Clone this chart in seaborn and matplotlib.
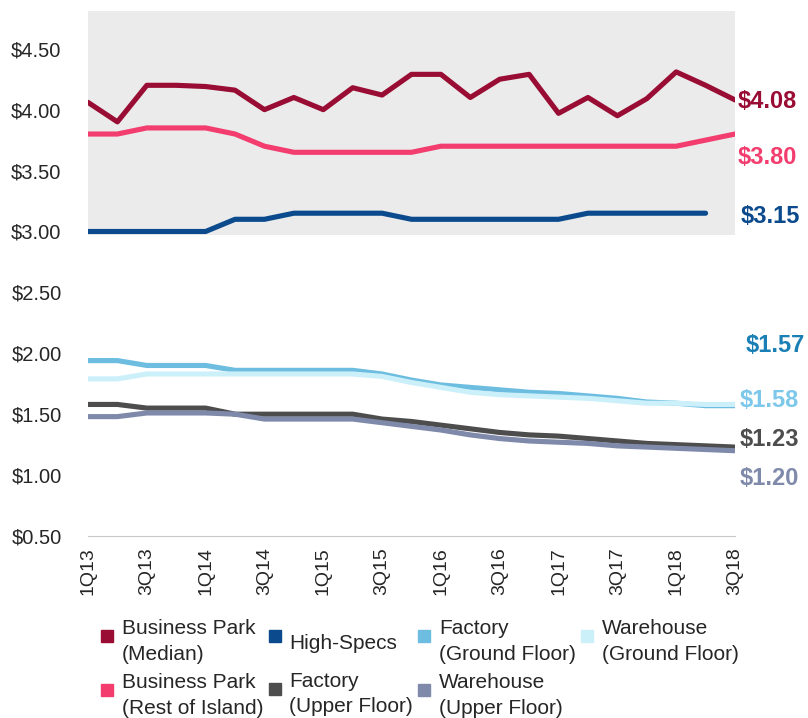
import numpy as np
import pandas as pd
import matplotlib.pyplot as plt
import seaborn as sns
from matplotlib.lines import Line2D

quarters = ["1Q13", "2Q13", "3Q13", "4Q13", "1Q14", "2Q14", "3Q14", "4Q14",
            "1Q15", "2Q15", "3Q15", "4Q15", "1Q16", "2Q16", "3Q16", "4Q16",
            "1Q17", "2Q17", "3Q17", "4Q17", "1Q18", "2Q18", "3Q18"]

bp_median = [4.06, 3.90, 4.20, 4.20, 4.19, 4.16, 4.00, 4.10, 4.00, 4.18, 4.12, 4.29,
             4.29, 4.10, 4.25, 4.29, 3.97, 4.10, 3.95, 4.09, 4.31, 4.20, 4.08]
bp_rest = [3.80, 3.80, 3.85, 3.85, 3.85, 3.80, 3.70, 3.65, 3.65, 3.65, 3.65, 3.65,
           3.70, 3.70, 3.70, 3.70, 3.70, 3.70, 3.70, 3.70, 3.70, 3.75, 3.80]
high_specs = [3.00, 3.00, 3.00, 3.00, 3.00, 3.10, 3.10, 3.15, 3.15, 3.15, 3.15, 3.10,
              3.10, 3.10, 3.10, 3.10, 3.10, 3.15, 3.15, 3.15, 3.15, 3.15, np.nan]
factory_gf = [1.94, 1.94, 1.90, 1.90, 1.90, 1.86, 1.86, 1.86, 1.86, 1.86, 1.83, 1.78,
              1.74, 1.72, 1.70, 1.68, 1.67, 1.65, 1.63, 1.60, 1.59, 1.57, 1.57]
warehouse_gf = [1.79, 1.79, 1.83, 1.83, 1.83, 1.83, 1.83, 1.83, 1.83, 1.83, 1.81, 1.76,
                1.72, 1.68, 1.66, 1.65, 1.64, 1.63, 1.61, 1.59, 1.59, 1.58, 1.58]
factory_uf = [1.58, 1.58, 1.55, 1.55, 1.55, 1.50, 1.50, 1.50, 1.50, 1.50, 1.46, 1.44,
              1.41, 1.38, 1.35, 1.33, 1.32, 1.30, 1.28, 1.26, 1.25, 1.24, 1.23]
warehouse_uf = [1.48, 1.48, 1.51, 1.51, 1.51, 1.50, 1.46, 1.46, 1.46, 1.46, 1.43, 1.40,
                1.37, 1.33, 1.30, 1.28, 1.27, 1.26, 1.24, 1.23, 1.22, 1.21, 1.20]

names = ["Business Park\n(Median)", "Business Park\n(Rest of Island)", "High-Specs",
         "Factory\n(Ground Floor)", "Warehouse\n(Ground Floor)",
         "Factory\n(Upper Floor)", "Warehouse\n(Upper Floor)"]
series = [bp_median, bp_rest, high_specs, factory_gf, warehouse_gf, factory_uf, warehouse_uf]
line_colors = ["#990c33", "#f23d6e", "#0b4a8c", "#6dbde0", "#ccf0fa", "#4d4d4d", "#7f8aab"]
label_colors = ["#990c33", "#f23d6e", "#0b4a8c", "#1a7fb5", "#7dc8ea", "#4d4d4d", "#7f8aab"]
# where the end labels sit (value axis) and their extra x offset in points
label_y = [4.065, 3.61, 3.12, 2.06, 1.61, 1.295, 0.97]
label_dx = [2, 2, 4, 8, 3, 3, 3]

rows = []
for name, vals in zip(names, series):
    for i, v in enumerate(vals):
        rows.append({"pos": i, "value": v, "series": name})
df = pd.DataFrame(rows)

sns.set_style("white")
plt.rcParams["font.family"] = ["Liberation Sans", "DejaVu Sans"]

fig = plt.figure(figsize=(8.08, 7.18), dpi=100)
ax = fig.add_axes([88 / 808, 1 - 536 / 718, (735 - 88) / 808, (536 - 11) / 718])

ax.axhspan(2.97, 4.81, color="#ebebeb", zorder=0, lw=0)
sns.lineplot(data=df, x="pos", y="value", hue="series", hue_order=names,
             palette=dict(zip(names, line_colors)), linewidth=3.7,
             errorbar=None, legend=False, sort=False, ax=ax)

ax.set_xlim(0, len(quarters) - 1)
ax.set_ylim(0.5, 4.81)
yt = np.arange(0.5, 4.51, 0.5)
ax.set_yticks(yt)
ax.set_yticklabels([f"${v:.2f}" for v in yt])
ax.set_xticks(range(len(quarters)))
ax.set_xticklabels([q if i % 2 == 0 else "" for i, q in enumerate(quarters)])
ax.tick_params(axis="x", length=5, color="#c0c0c0", rotation=90, labelsize=14, pad=3)
ax.tick_params(axis="y", length=0, labelsize=14.5, pad=19)
ax.set_xlabel("")
ax.set_ylabel("")
for s in ["top", "right", "left"]:
    ax.spines[s].set_visible(False)
ax.spines["bottom"].set_color("#c8c8c8")

# end-of-line value labels
for vals, c, ly, dx in zip(series, label_colors, label_y, label_dx):
    last = [v for v in vals if not np.isnan(v)][-1]
    ax.annotate(f"${last:.2f}", xy=(len(quarters) - 1, ly), xytext=(dx, 0),
                textcoords="offset points", va="center", ha="left",
                fontsize=17, fontweight="bold", color=c, annotation_clip=False)

order = [0, 1, 2, 5, 3, 6, 4]
handles = [Line2D([], [], marker="s", ls="none", ms=8, color=line_colors[k]) for k in order]
leg = fig.legend(handles, [names[k] for k in order], ncol=4, loc="upper left",
                 bbox_to_anchor=(82 / 808, 1 - 600 / 718), frameon=False, fontsize=15,
                 handlelength=0.6, handleheight=2.5, handletextpad=0.4,
                 columnspacing=0.25, labelspacing=0.48)
for t in leg.get_texts():
    t.set_linespacing(1.45)

fig.savefig("out.png", dpi=100)
